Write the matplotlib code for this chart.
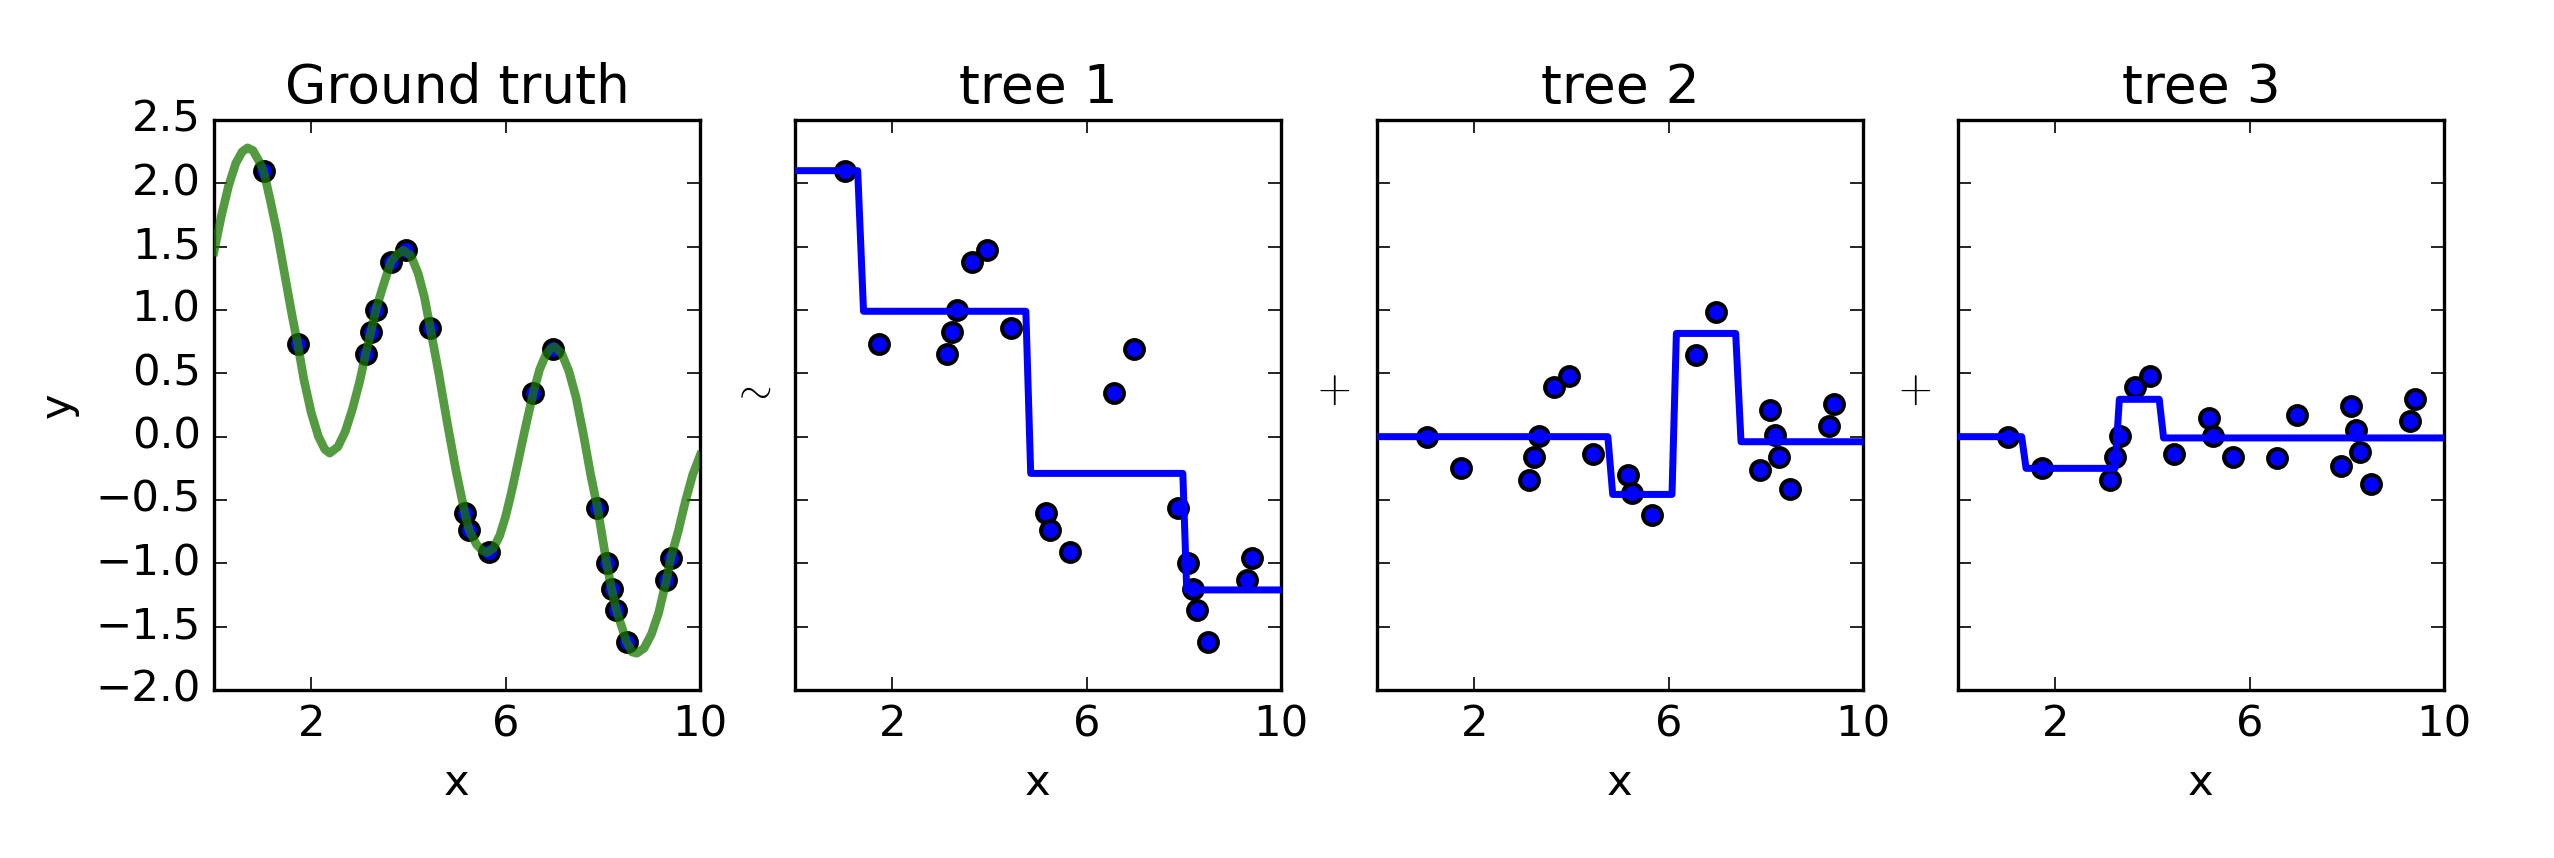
import matplotlib
matplotlib.use('Agg')
import matplotlib.pyplot as plt

# sample points (same x for every panel)
x_data = [1.02, 1.72, 3.12, 3.23, 3.33, 3.64, 3.95, 4.45, 5.16, 5.25,
          5.66, 6.57, 6.98, 7.89, 8.08, 8.18, 8.28, 8.49, 9.31, 9.40]
y_data = [2.10, 0.735, 0.65, 0.83, 1.00, 1.38, 1.47, 0.857, -0.60, -0.74,
          -0.91, 0.347, 0.696, -0.56, -1.00, -1.20, -1.37, -1.62, -1.13, -0.957]
# residuals after tree 1 and after tree 2
resid_1 = [0.0, -0.25, -0.34, -0.16, 0.006, 0.39, 0.48, -0.137, -0.30, -0.447,
           -0.617, 0.644, 0.985, -0.267, 0.21, 0.012, -0.16, -0.41, 0.085, 0.255]
resid_2 = [0.0, -0.25, -0.34, -0.16, 0.006, 0.39, 0.48, -0.137, 0.146, 0.006,
           -0.16, -0.17, 0.17, -0.234, 0.246, 0.052, -0.12, -0.37, 0.12, 0.30]

# ground truth curve
gt_x = [0.0, 0.15, 0.30, 0.45, 0.58, 0.69, 0.80, 0.92, 1.02, 1.15, 1.30, 1.45, 1.60,
        1.72, 1.85, 2.00, 2.15, 2.28, 2.38, 2.55, 2.70, 2.85, 3.00, 3.12, 3.23, 3.33,
        3.48, 3.64, 3.77, 3.90, 4.05, 4.20, 4.33, 4.45, 4.62, 4.79, 4.97, 5.16, 5.25,
        5.40, 5.52, 5.62, 5.75, 5.88, 6.00, 6.12, 6.25, 6.40, 6.57, 6.70, 6.82, 6.91,
        7.00, 7.15, 7.30, 7.45, 7.60, 7.75, 7.89, 8.08, 8.18, 8.28, 8.49, 8.60, 8.70,
        8.85, 9.00, 9.15, 9.31, 9.40, 9.55, 9.70, 9.85, 10.0]
gt_y = [1.46, 1.74, 1.98, 2.16, 2.25, 2.28, 2.26, 2.18, 2.10, 1.88, 1.61, 1.29, 0.97,
        0.735, 0.45, 0.19, 0.0, -0.10, -0.13, -0.08, 0.04, 0.22, 0.44, 0.65, 0.83, 1.0,
        1.19, 1.38, 1.44, 1.47, 1.43, 1.29, 1.10, 0.857, 0.51, 0.13, -0.25, -0.60, -0.74,
        -0.85, -0.90, -0.915, -0.88, -0.78, -0.63, -0.44, -0.21, 0.06, 0.347, 0.53, 0.64, 0.69,
        0.71, 0.66, 0.52, 0.31, 0.02, -0.30, -0.56, -1.00, -1.20, -1.37, -1.62, -1.70, -1.71,
        -1.67, -1.56, -1.39, -1.13, -0.957, -0.75, -0.51, -0.30, -0.15]

# tree predictions (step lines)
tree1_x = [0, 1.29, 1.41, 4.75, 4.85, 7.98, 8.06, 10]
tree1_y = [2.10, 2.10, 0.99, 0.99, -0.29, -0.29, -1.21, -1.21]
tree2_x = [0, 4.75, 4.85, 6.07, 6.16, 7.38, 7.49, 10]
tree2_y = [0, 0, -0.456, -0.456, 0.815, 0.815, -0.04, -0.04]
tree3_x = [0, 1.31, 1.40, 3.23, 3.32, 4.14, 4.23, 10]
tree3_y = [0, 0, -0.25, -0.25, 0.295, 0.295, -0.01, -0.01]

titles = ['Ground truth', 'tree 1', 'tree 2', 'tree 3']
symbols = [None, r'$\sim$', r'$+$', r'$+$']
x_ticks = [2, 6, 10]
y_ticks = [-2.0, -1.5, -1.0, -0.5, 0.0, 0.5, 1.0, 1.5, 2.0, 2.5]

plt.style.use('classic')
plt.rcParams['mathtext.fontset'] = 'cm'

W, H = 2554, 858
dpi = 240
fig = plt.figure(figsize=(W / dpi, H / dpi), dpi=dpi, facecolor='white')

lefts = [214, 795, 1377, 1958]
ax_w, ax_top, ax_bot = 486, 120, 690

panel_points = [y_data, y_data, resid_1, resid_2]
panel_lines = [None, (tree1_x, tree1_y), (tree2_x, tree2_y), (tree3_x, tree3_y)]

for i in range(4):
    ax = fig.add_axes([lefts[i] / W, 1 - ax_bot / H, ax_w / W, (ax_bot - ax_top) / H])
    ax.scatter(x_data, panel_points[i], s=32, c='b', edgecolors='k', linewidths=1.2, zorder=2)
    if i == 0:
        ax.plot(gt_x, gt_y, color=(0.1, 0.47, 0.0), alpha=0.75, lw=2.6, zorder=3)
        ax.set_ylabel('y', fontsize=13)
    else:
        tx, ty = panel_lines[i]
        ax.plot(tx, ty, color='b', lw=2.1, zorder=3)
        ax.text(-0.09, 0.526, symbols[i], transform=ax.transAxes, fontsize=13,
                ha='center', va='center')
    ax.set_xlim(0, 10)
    ax.set_ylim(-2.0, 2.5)
    ax.set_xticks(x_ticks)
    ax.set_yticks(y_ticks)
    if i > 0:
        ax.set_yticklabels([])
    ax.tick_params(labelsize=13)
    ax.set_xlabel('x', fontsize=13)
    ax.set_title(titles[i], fontsize=16)

fig.savefig('out.png', dpi=dpi, facecolor='white')
